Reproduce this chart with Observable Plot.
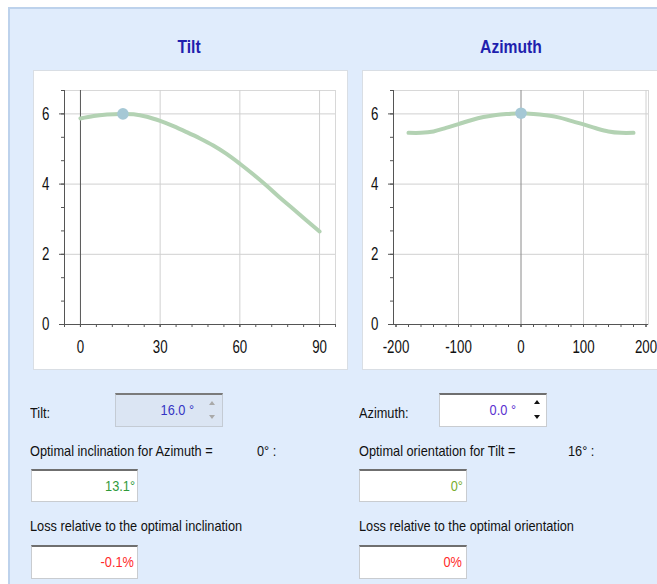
<!DOCTYPE html>
<html>
<head>
<meta charset="utf-8">
<script src="https://cdn.jsdelivr.net/npm/d3@7"></script>
<script src="https://cdn.jsdelivr.net/npm/@observablehq/plot@0.6"></script>
<style>
  html, body { margin: 0; padding: 0; width: 657px; height: 584px; overflow: hidden; background: #fff; }
  body { position: relative; font-family: "Liberation Sans", Arial, sans-serif; color: #111; }
  #panel { position: absolute; left: 8px; top: 7px; width: 700px; height: 620px; background: #e0ecfc; border-left: 2px solid #bdd2ec; border-top: 2px solid #bdd2ec; }
  .abs { position: absolute; white-space: nowrap; }
  .title { font-weight: bold; font-size: 18px; color: #1f1fae; line-height: 20px; transform: translateX(-50%) scaleX(0.87); transform-origin: center center; }
  .lbl { font-size: 14.5px; line-height: 18px; transform: scaleX(0.88); transform-origin: left center; }
  .chartbox { position: absolute; background: #fff; border: 1px solid #d9dee4; box-sizing: border-box; }
  .box { position: absolute; background: #fff; box-sizing: border-box; border: 1px solid #c9ccd0; border-top: 2px solid #6f6f6f; font-size: 14.5px; text-align: right; white-space: nowrap; }
  .box span { display: inline-block; transform: scaleX(0.88); transform-origin: right center; }
  .tri-up { position: absolute; width: 0; height: 0; border-left: 3px solid transparent; border-right: 3px solid transparent; border-bottom: 4px solid #999; }
  .tri-dn { position: absolute; width: 0; height: 0; border-left: 3px solid transparent; border-right: 3px solid transparent; border-top: 4px solid #999; }
</style>
</head>
<body>
<div id="panel"></div>
<div class="abs title" style="left:189px; top:37px;">Tilt</div>
<div class="abs title" style="left:511px; top:37px;">Azimuth</div>
<div class="chartbox" id="boxL" style="left:33px; top:70px; width:315px; height:300px;"></div>
<div class="chartbox" id="boxR" style="left:362px; top:70px; width:310px; height:300px;"></div>

<div class="abs lbl" style="left:30px; top:404px;">Tilt:</div>
<div class="box" style="left:115px; top:393px; width:108px; height:34px; background:#dbe5f3; border-color:#c4cbd4; border-top-color:#7a7a7a; line-height:30px; padding-right:28px; color:#3434c4;"><span>16.0 °</span></div>
<div class="tri-up" style="left:209px; top:401px; border-bottom-color:#a9a9a9;"></div>
<div class="tri-dn" style="left:209px; top:415px; border-top-color:#a9a9a9;"></div>
<div class="abs lbl" style="left:30px; top:442px;">Optimal inclination for Azimuth =</div>
<div class="abs lbl" style="left:257px; top:442px;">0° :</div>
<div class="box" style="left:31px; top:469px; width:107px; height:33px; line-height:30px; padding-right:2px; color:#2f9a3a;"><span>13.1°</span></div>
<div class="abs lbl" style="left:30px; top:517px;">Loss relative to the optimal inclination</div>
<div class="box" style="left:31px; top:545px; width:107px; height:34px; line-height:31px; padding-right:3px; color:#ff2a2a;"><span>-0.1%</span></div>

<div class="abs lbl" style="left:359px; top:404px;">Azimuth:</div>
<div class="box" style="left:439px; top:393px; width:108px; height:34px; line-height:30px; padding-right:30px; color:#5a2fd0;"><span>0.0 °</span></div>
<div class="tri-up" style="left:534px; top:400px; border-bottom-color:#111;"></div>
<div class="tri-dn" style="left:534px; top:415px; border-top-color:#111;"></div>
<div class="abs lbl" style="left:359px; top:442px;">Optimal orientation for Tilt =</div>
<div class="abs lbl" style="left:568px; top:442px;">16° :</div>
<div class="box" style="left:359px; top:469px; width:108px; height:33px; line-height:30px; padding-right:3px; color:#78ad2e;"><span>0°</span></div>
<div class="abs lbl" style="left:359px; top:517px;">Loss relative to the optimal orientation</div>
<div class="box" style="left:359px; top:545px; width:108px; height:34px; line-height:31px; padding-right:4px; color:#ff2a2a;"><span>0%</span></div>

<script>
// ---- data ----
const tiltAngles = [0, 5, 10, 15, 20, 25, 30, 35, 40, 45, 50, 55, 60, 65, 70, 75, 80, 85, 90];
const tiltValues = [5.87, 5.94, 5.98, 6.0, 5.99, 5.92, 5.8, 5.65, 5.48, 5.3, 5.1, 4.86, 4.58, 4.28, 3.96, 3.62, 3.3, 2.97, 2.65];
const azimuthAngles = [-180, -160, -140, -120, -100, -80, -60, -40, -20, 0, 20, 40, 60, 80, 100, 120, 140, 160, 180];
const azimuthValues = [5.46, 5.46, 5.5, 5.6, 5.71, 5.82, 5.91, 5.97, 6.0, 6.02, 6.0, 5.96, 5.9, 5.8, 5.7, 5.59, 5.5, 5.46, 5.46];
const tiltCurrent = [16];
const tiltCurrentValue = [6.0];
const azimuthCurrent = [0];
const azimuthCurrentValue = [6.02];
const tiltTickLabels = [0, 30, 60, 90];
const tiltMinorTicks = [-6, 0, 6, 12, 18, 24, 30, 36, 42, 48, 54, 60, 66, 72, 78, 84, 90, 96];
const azimuthTickLabels = [-200, -100, 0, 100, 200];
const azimuthMinorTicks = [-200, -180, -160, -140, -120, -100, -80, -60, -40, -20, 0, 20, 40, 60, 80, 100, 120, 140, 160, 180, 200];
const yTickLabels = [0, 2, 4, 6];
const yMinorTicks = [0, 2/3, 4/3, 2, 8/3, 10/3, 4, 14/3, 16/3, 6, 20/3];

const tiltData = tiltAngles.map((a, i) => ({a, v: tiltValues[i]}));
const azData = azimuthAngles.map((a, i) => ({a, v: azimuthValues[i]}));

const FONT = '"Liberation Sans", Arial, sans-serif';

// horizontally condense tick labels around their anchor point
function squeeze(svg, s) {
  svg.querySelectorAll("text").forEach(t => {
    const tr = t.getAttribute("transform") || "";
    const xa = t.getAttribute("x");
    let extra = "";
    if (xa !== null && !isNaN(parseFloat(xa)) && !/em/.test(xa)) {
      extra = ` translate(${parseFloat(xa)},0)`;
      t.removeAttribute("x");
    }
    t.setAttribute("transform", `${tr}${extra} scale(${s},1)`);
  });
  return svg;
}

const fmt = d => String(d);

function chart({data, xDomain, grid, zeroStroke, minor, labels, cx, cy, width, marginRight}) {
  const yTop = 20/3;
  const svg = Plot.plot({
    width, height: 300,
    marginLeft: 30, marginRight, marginTop: 19, marginBottom: 47,
    x: {domain: xDomain},
    y: {domain: [0, yTop]},
    style: {background: "transparent", fontFamily: FONT, fontSize: "17.5px", color: "#111", overflow: "visible"},
    marks: [
      Plot.frame({stroke: "#d8d8d8"}),
      Plot.gridX(grid, {stroke: "#d0d0d0", strokeOpacity: 1}),
      Plot.gridY([2, 4, 6], {stroke: "#d0d0d0", strokeOpacity: 1}),
      Plot.ruleX([0], {stroke: zeroStroke, strokeWidth: 1}),
      Plot.axisY(yMinorTicks, {anchor: "left", tickSize: 3, text: null, stroke: "#555", label: null}),
      Plot.axisY(yTickLabels, {anchor: "left", tickSize: 5, tickPadding: 10, stroke: "#555", label: null, fill: "#111", tickFormat: fmt}),
      Plot.axisX(minor, {anchor: "bottom", tickSize: 3, text: null, stroke: "#555", label: null}),
      Plot.axisX(labels, {anchor: "bottom", tickSize: 3, tickPadding: 13, stroke: "#555", label: null, fill: "#111", tickFormat: fmt}),
      Plot.ruleX([xDomain[0]], {stroke: "#555"}),
      Plot.ruleY([0], {stroke: "#555"}),
      Plot.line(data, {x: "a", y: "v", stroke: "#b3d2b3", strokeWidth: 4, curve: "catmull-rom"}),
      Plot.dot(cx.map((x, i) => ({x, y: cy[i]})), {x: "x", y: "y", r: 5.8, fill: "#a5c8d5", stroke: "none"})
    ]
  });
  return squeeze(svg, 0.76);
}

document.getElementById("boxL").appendChild(chart({
  data: tiltData, xDomain: [-6, 96], grid: [30, 60, 90], zeroStroke: "#555",
  minor: tiltMinorTicks, labels: tiltTickLabels, cx: tiltCurrent, cy: tiltCurrentValue,
  width: 313, marginRight: 12
}));
document.getElementById("boxR").appendChild(chart({
  data: azData, xDomain: [-204, 204], grid: [-100, 100, 200], zeroStroke: "#8a8a8a",
  minor: azimuthMinorTicks, labels: azimuthTickLabels, cx: azimuthCurrent, cy: azimuthCurrentValue,
  width: 294, marginRight: 9
}));
</script>
</body>
</html>
